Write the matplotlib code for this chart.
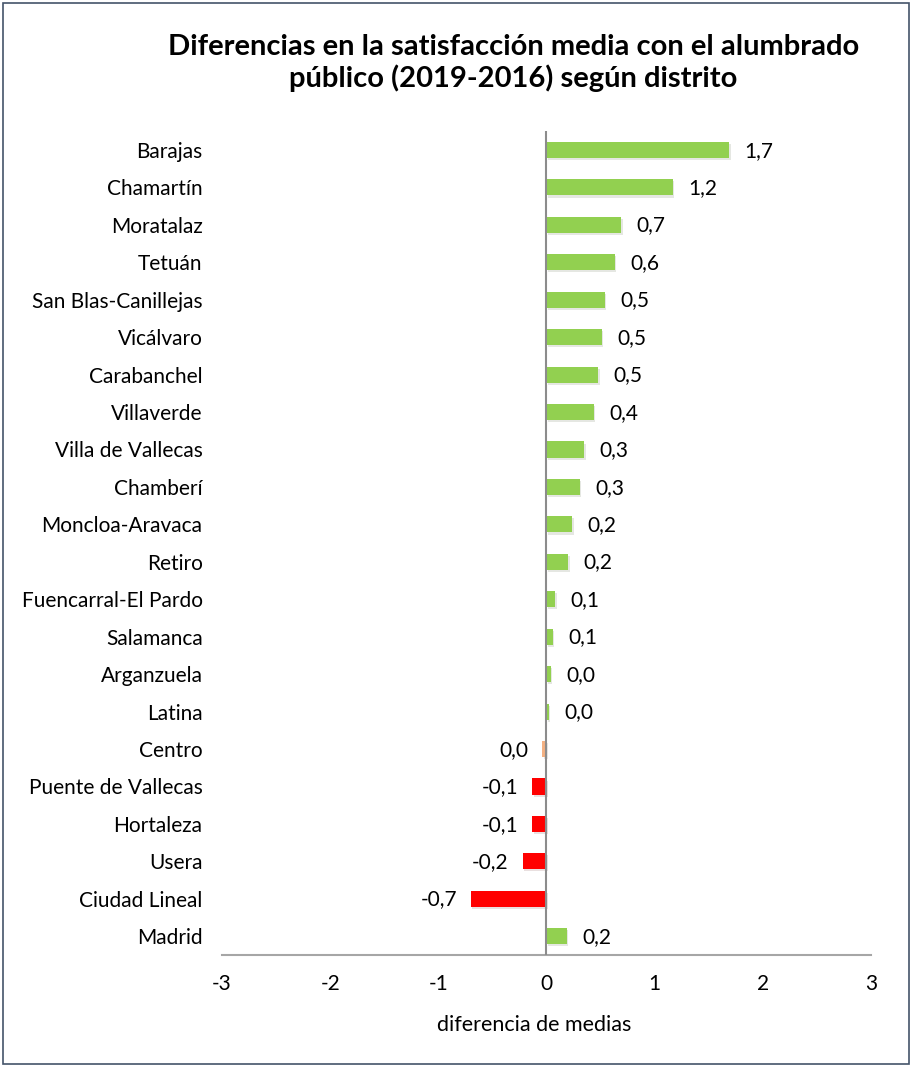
import matplotlib
matplotlib.use("Agg")
import matplotlib.pyplot as plt
from matplotlib.patches import Rectangle
import matplotlib.patheffects as pe

plt.rcParams['font.family'] = ['Lato', 'DejaVu Sans']

districts = ["Barajas", "Chamartín", "Moratalaz", "Tetuán", "San Blas-Canillejas",
             "Vicálvaro", "Carabanchel", "Villaverde", "Villa de Vallecas", "Chamberí",
             "Moncloa-Aravaca", "Retiro", "Fuencarral-El Pardo", "Salamanca",
             "Arganzuela", "Latina", "Centro", "Puente de Vallecas", "Hortaleza",
             "Usera", "Ciudad Lineal", "Madrid"]
values = [1.69, 1.17, 0.69, 0.63, 0.54, 0.51, 0.48, 0.44, 0.35, 0.31,
          0.24, 0.20, 0.08, 0.06, 0.04, 0.02, -0.04, -0.13, -0.13, -0.22, -0.70, 0.19]
xticks = [-3, -2, -1, 0, 1, 2, 3]

def color_for(v):
    if v >= 0:
        return "#92D050"
    if v > -0.05:
        return "#F4B183"
    return "#FF0000"

fig = plt.figure(figsize=(9.12, 10.67), dpi=100)
ax = fig.add_axes([222 / 912, 0.105, (871 - 222) / 912, 0.877 - 0.105])

n = len(districts)
ypos = list(range(n))[::-1]
colors = [color_for(v) for v in values]
bars = ax.barh(ypos, values, height=0.43, color=colors, zorder=3,
               path_effects=[pe.SimplePatchShadow(offset=(1, -1.5), alpha=0.12), pe.Normal()])

fs = 15
for y, v in zip(ypos, values):
    label = f"{v:.1f}".replace(".", ",")
    if label == "-0,0":
        label = "0,0"
    if v >= 0:
        ax.annotate(label, (v, y), xytext=(11, -0.5), textcoords="offset points",
                    ha="left", va="center", fontsize=fs)
    else:
        ax.annotate(label, (v, y), xytext=(-10, -0.5), textcoords="offset points",
                    ha="right", va="center", fontsize=fs)

ax.set_xlim(-3, 3)
ax.set_ylim(-0.5, n - 0.5)
ax.set_yticks(ypos)
ax.set_yticklabels(districts, fontsize=fs)
ax.set_xticks(xticks)
ax.set_xticklabels([str(t) for t in xticks], fontsize=fs)
ax.tick_params(axis="both", length=0)
ax.tick_params(axis="y", pad=14)
ax.tick_params(axis="x", pad=14)
for s in ["top", "right", "left"]:
    ax.spines[s].set_visible(False)
ax.spines["bottom"].set_color("#A6A6A6")
ax.spines["bottom"].set_linewidth(1.5)
ax.axvline(0, color="#8C8C8C", linewidth=1.5, zorder=4)
ax.set_xlabel("diferencia de medias", fontsize=15.5)
ax.xaxis.set_label_coords((534 - 222) / 649, -(1025 - 955) / 824, transform=ax.transAxes)
ax.xaxis.label.set_va("center")

fig.text(0.563, 1 - 63 / 1067, "Diferencias en la satisfacción media con el alumbrado\npúblico (2019-2016) según distrito",
         ha="center", va="center", fontsize=21, fontweight="bold", linespacing=1.2)

fig.patches.append(Rectangle((0.003, 0.003), 0.994, 0.994, transform=fig.transFigure,
                             fill=False, edgecolor="#44546A", linewidth=1.2))

fig.savefig("out.png", dpi=100)
